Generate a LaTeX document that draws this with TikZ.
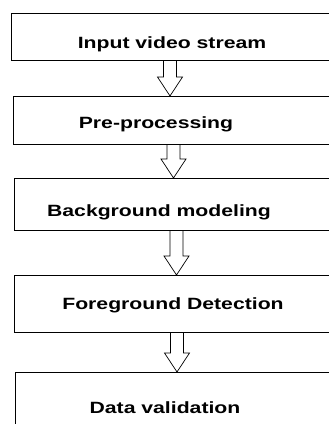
\documentclass[tikz,border=0pt]{standalone}
\usepackage{fontspec}
\newfontfamily\lblfont[FakeStretch=1.3]{Liberation Sans}
\usetikzlibrary{calc}
\tikzset{
    box/.style={draw=black, line width=0.8pt, fill=white, minimum width=330pt, anchor=north west, inner sep=0pt},
    lbl/.style={font=\lblfont\bfseries\fontsize{16.3}{19}\selectfont, anchor=base, inner sep=0pt},
    hollow/.style={draw=black, line width=0.7pt, to path={let \p1=(\tikztostart), \p2=(\tikztotarget) in
        (\x2-6.5pt,\y1) -- (\x2-6.5pt,\y2+19pt) -- (\x2-12.5pt,\y2+19pt) -- (\x2,\y2)
        -- (\x2+12.5pt,\y2+19pt) -- (\x2+6.5pt,\y2+19pt) -- (\x2+6.5pt,\y1)}}
}

\begin{document}
\begin{tikzpicture}[x=1pt, y=-1pt]
        \path[use as bounding box, clip] (0,0) rectangle (329,424);
        \fill[white] (0,0) rectangle (329,424);
        % stages
        \node [box, minimum height=47pt] (input) at (11,13) {};
        \node [box, minimum height=48pt] (prep) at (13,96) {};
        \node [box, minimum height=52pt] (bgm) at (14,178) {};
        \node [box, minimum height=57pt] (fgd) at (14,275) {};
        \node [box, minimum height=60pt] (valid) at (15,372) {};
        \node [lbl] (tinput) at (172,48) {Input video stream};
        \node [lbl] (tprep) at (156,128) {Pre-processing};
        \node [lbl] (tbgm) at (159,216) {Background modeling};
        \node [lbl] (tfgd) at (173,309) {Foreground Detection};
        \node [lbl] (tvalid) at (165,413) {Data validation};
        % block arrows
        \draw [hollow] ([xshift=159pt]input.south west) to ([xshift=157pt]prep.north west);
        \draw [hollow] ([xshift=160.5pt]prep.south west) to ([xshift=159.5pt]bgm.north west);
        \draw [hollow] ([xshift=162.5pt]bgm.south west) to ([xshift=162.5pt]fgd.north west);
        \draw [hollow] ([xshift=163pt]fgd.south west) to ([xshift=162pt]valid.north west);
    \end{tikzpicture}
\end{document}
